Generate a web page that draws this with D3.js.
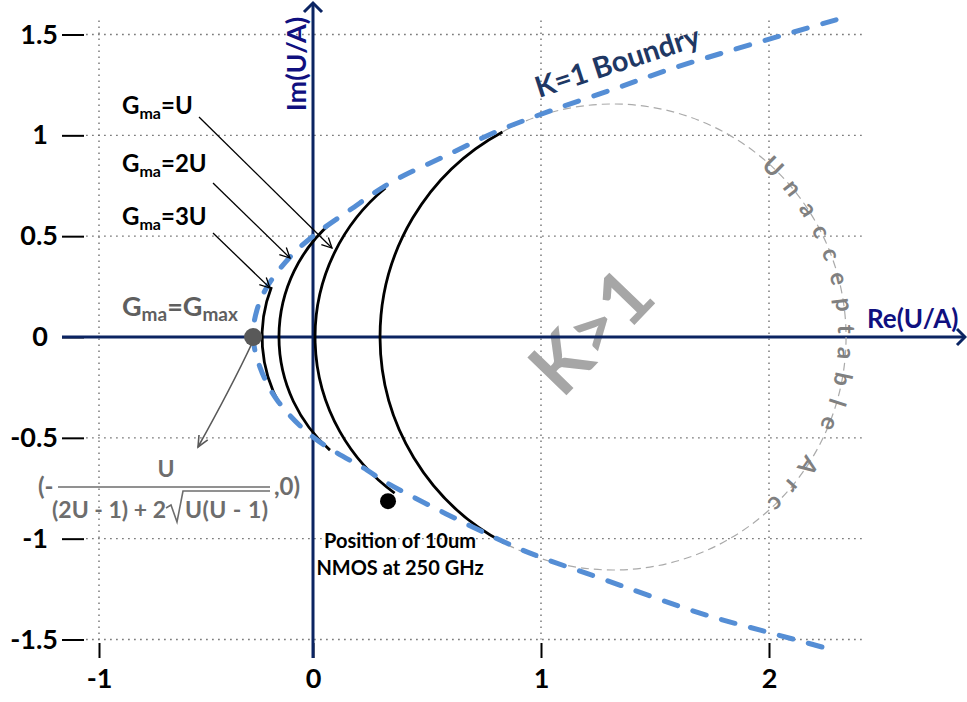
<!DOCTYPE html>
<html>
<head>
<meta charset="utf-8">
<script src="https://cdn.jsdelivr.net/npm/d3@7"></script>
<style>
  body { margin: 0; background: #fff; }
  svg text { font-family: Lato, "Open Sans", sans-serif; font-weight: bold; }
</style>
</head>
<body>
<script>
// axis ticks
const xTicks = [-1, 0, 1, 2];
const xTickLabels = ["-1", "0", "1", "2"];
const yTicks = [-1.5, -1, -0.5, 0, 0.5, 1, 1.5];
const yTickLabels = ["-1.5", "-1", "-0.5", "0", "0.5", "1", "1.5"];
const gridX = [-1, 1, 2];
const gridY = [-1.5, -1, -0.5, 0.5, 1, 1.5];

// K=1 boundary (top right -> vertex -> bottom right)
const kBoundX = [2.294, 1.596, 1.333, 1.053, 0.82, 0.588, 0.338, 0.162, 0, -0.107, -0.215, -0.262, -0.28,
                 -0.248, -0.168, 0, 0.237, 0.325, 0.82, 0.996, 1.246, 1.697, 2.009, 2.281];
const kBoundY = [1.573, 1.339, 1.235, 1.126, 1.026, 0.902, 0.764, 0.63, 0.5, 0.397, 0.248, 0.134, 0,
                 -0.149, -0.312, -0.496, -0.66, -0.724, -1.007, -1.091, -1.19, -1.369, -1.468, -1.552];

// constant Gma arcs (circles centred on the real axis)
const arcVertexX = [-0.238, -0.159, 0.009, 0.294];
const arcCenterX = [0.382, 0.513, 0.855, 1.316];
const arcTopY = [0.248, 0.566, 0.739, 1.017];
const arcBottomY = [-0.337, -0.561, -0.774, -1.022];

// marked points
const gmaxPoint = [-0.28, 0];
const nmosPoint = [0.329, -0.814];

const width = 967, height = 702;
const navy = "#0b2462";

const x = d3.scaleLinear().domain([-1, 0, 1, 2]).range([99, 313, 541, 769]);
const y = d3.scaleLinear().domain([-1.5, 1.5]).range([639.5, 34.5]);

const svg = d3.select("body").append("svg")
    .attr("width", width)
    .attr("height", height);

const defs = svg.append("defs");
defs.append("marker")
    .attr("id", "arrowBlack")
    .attr("viewBox", "-12 -7 14 14")
    .attr("markerWidth", 14).attr("markerHeight", 14)
    .attr("markerUnits", "userSpaceOnUse")
    .attr("orient", "auto")
    .append("path")
    .attr("d", "M-10,-5L0,0L-10,5")
    .attr("fill", "none").attr("stroke", "#000").attr("stroke-width", 1.3);
defs.append("marker")
    .attr("id", "arrowGray")
    .attr("viewBox", "-12 -7 14 14")
    .attr("markerWidth", 14).attr("markerHeight", 14)
    .attr("markerUnits", "userSpaceOnUse")
    .attr("orient", "auto")
    .append("path")
    .attr("d", "M-11,-5L0,0L-11,5")
    .attr("fill", "none").attr("stroke", "#595959").attr("stroke-width", 1.6);

// grid
svg.append("g").selectAll("line")
    .data(gridY).enter().append("line")
    .attr("x1", x(-1.06)).attr("x2", x(2.42))
    .attr("y1", d => y(d)).attr("y2", d => y(d))
    .attr("stroke", "#666").attr("stroke-width", 1.3).attr("stroke-dasharray", "1.5,4.5");
svg.append("g").selectAll("line")
    .data(gridX).enter().append("line")
    .attr("x1", d => x(d)).attr("x2", d => x(d))
    .attr("y1", y(1.57)).attr("y2", y(-1.5))
    .attr("stroke", "#666").attr("stroke-width", 1.3).attr("stroke-dasharray", "1.5,4.5");

// ticks
const yAxis = svg.append("g")
    .attr("transform", "translate(84,0)")
    .call(d3.axisLeft(y).tickValues(yTicks).tickSize(22).tickPadding(4)
        .tickFormat((d, i) => yTickLabels[i]));
yAxis.select(".domain").remove();
yAxis.selectAll("line").attr("stroke", "#000").attr("stroke-width", 2);
yAxis.selectAll("text")
    .attr("fill", "#000")
    .style("font-size", "27px")
    .attr("x", d => Number.isInteger(d) ? -36 : -26);

const xAxis = svg.append("g")
    .attr("transform", "translate(0,643)")
    .call(d3.axisBottom(x).tickValues(xTicks).tickSize(15).tickPadding(11)
        .tickFormat((d, i) => xTickLabels[i]));
xAxis.select(".domain").remove();
xAxis.selectAll("line").attr("stroke", "#000").attr("stroke-width", 2);
xAxis.selectAll("text").attr("fill", "#000").style("font-size", "27px");

// big K>1 label (under the axes)
svg.append("text")
    .attr("transform", "translate(591,331) rotate(-46)")
    .attr("text-anchor", "middle")
    .attr("dy", "0.36em")
    .attr("fill", "#a6a6a6")
    .style("font-size", "75px")
    .text("K>1");

// main axes
svg.append("line")
    .attr("x1", 62).attr("x2", 965).attr("y1", y(0)).attr("y2", y(0))
    .attr("stroke", navy).attr("stroke-width", 3);
svg.append("line")
    .attr("x1", x(0)).attr("x2", x(0)).attr("y1", 658).attr("y2", 3)
    .attr("stroke", navy).attr("stroke-width", 3);
svg.append("path")
    .attr("d", `M${x(0) - 9},12L${x(0)},3L${x(0) + 9},12`)
    .attr("fill", "none").attr("stroke", navy).attr("stroke-width", 3);
svg.append("path")
    .attr("d", `M957,${y(0) - 8}L965,${y(0)}L957,${y(0) + 8}`)
    .attr("fill", "none").attr("stroke", navy).attr("stroke-width", 3);

svg.append("text")
    .attr("transform", "translate(306,64) rotate(-90)")
    .attr("text-anchor", "middle")
    .attr("fill", "#10107f")
    .style("font-size", "27px")
    .text("Im(U/A)");
svg.append("text")
    .attr("x", 867).attr("y", 328)
    .attr("fill", "#10107f")
    .style("font-size", "26px")
    .text("Re(U/A)");

// arc geometry in pixels
const arcs = arcCenterX.map((c, i) => {
    const cx = x(c), cy = y(0);
    const r = cx - x(arcVertexX[i]);
    const angleAt = v => {
        const dy = y(v) - cy;
        return Math.atan2(dy, -Math.sqrt(Math.max(r * r - dy * dy, 0)));
    };
    return { cx, cy, r, a0: angleAt(arcTopY[i]), a1: angleAt(arcBottomY[i]) };
});

// unacceptable part of the outer circle
const outer = arcs[3];
const grayPath = d3.path();
grayPath.arc(outer.cx, outer.cy, outer.r, outer.a0, outer.a1, false);
svg.append("path")
    .attr("d", grayPath.toString())
    .attr("fill", "none").attr("stroke", "#aaa").attr("stroke-width", 1.2)
    .attr("stroke-dasharray", "8,5");

// text along the arc
const deg = Math.PI / 180;
const textArc = d3.path();
const ta0 = -70 * deg;
textArc.arc(outer.cx, outer.cy, outer.r, ta0, 80 * deg, false);
defs.append("path").attr("id", "uarc").attr("d", textArc.toString());

const arcLabel = "Unacceptable Arc";
const arcFont = 24;
const probe = svg.append("text").style("font-size", arcFont + "px").text(arcLabel);
const natural = probe.node().getComputedTextLength();
probe.remove();
const spanLen = outer.r * (96 * deg);
const spacing = (spanLen - natural) / (arcLabel.length - 1);
svg.append("text")
    .attr("fill", "#808080")
    .style("font-size", arcFont + "px")
    .style("letter-spacing", spacing + "px")
    .attr("dy", "0.33em")
    .append("textPath")
    .attr("href", "#uarc")
    .attr("startOffset", outer.r * ((-49 * deg) - ta0))
    .text(arcLabel);

// black constant-Gma arcs
arcs.forEach(a => {
    const p = d3.path();
    p.arc(a.cx, a.cy, a.r, a.a0, a.a1, true);
    svg.append("path")
        .attr("d", p.toString())
        .attr("fill", "none").attr("stroke", "#000").attr("stroke-width", 2.8);
});

// K=1 boundary
const kLine = d3.line()
    .x(d => x(d[0])).y(d => y(d[1]))
    .curve(d3.curveCatmullRom.alpha(0.5));
svg.append("path")
    .datum(d3.zip(kBoundX, kBoundY))
    .attr("d", kLine)
    .attr("fill", "none")
    .attr("stroke", "#558ed5").attr("stroke-width", 5)
    .attr("stroke-linecap", "round")
    .attr("stroke-dasharray", "14,16");

svg.append("text")
    .attr("transform", "translate(539,98) rotate(-18)")
    .attr("fill", "#1f3864")
    .style("font-size", "29px")
    .text("K=1 Boundry");

// Gma labels + arrows
function gmaLabel(xp, yp, sub, rest, size, subSize, color) {
    const t = svg.append("text")
        .attr("x", xp).attr("y", yp)
        .attr("fill", color)
        .style("font-size", size + "px");
    t.append("tspan").text("G");
    t.append("tspan").attr("dy", 0.2 * size).style("font-size", subSize + "px").text(sub);
    t.append("tspan").attr("dy", -0.2 * size).text(rest);
    return t;
}
gmaLabel(122, 114, "ma", "=U", 24, 16, "#000");
gmaLabel(122, 172, "ma", "=2U", 24, 16, "#000");
gmaLabel(122, 225, "ma", "=3U", 24, 16, "#000");

const gmax = gmaLabel(122, 316, "ma", "=G", 27, 19, "#5f5f5f");
gmax.append("tspan").attr("dy", 0.2 * 27).style("font-size", "19px").text("max");

const arrows = [
    [[199, 117], [332, 248]],
    [[213, 183], [290, 258]],
    [[213, 233], [270, 288]]
];
svg.append("g").selectAll("line")
    .data(arrows).enter().append("line")
    .attr("x1", d => d[0][0]).attr("y1", d => d[0][1])
    .attr("x2", d => d[1][0]).attr("y2", d => d[1][1])
    .attr("stroke", "#000").attr("stroke-width", 1.3)
    .attr("marker-end", "url(#arrowBlack)");

// Gmax point, arrow and formula
svg.append("path")
    .attr("d", `M${x(gmaxPoint[0])},${y(gmaxPoint[1]) + 4}Q231,388 198,447`)
    .attr("fill", "none").attr("stroke", "#595959").attr("stroke-width", 1.6)
    .attr("marker-end", "url(#arrowGray)");
svg.append("circle")
    .attr("cx", x(gmaxPoint[0])).attr("cy", y(gmaxPoint[1])).attr("r", 9)
    .attr("fill", "#595959");

const fcol = "#6d6d6d";
const formula = svg.append("g").attr("fill", fcol).style("font-size", "23px");
formula.append("text").attr("x", 38).attr("y", 495).style("font-size", "24px").text("(-");
formula.append("text").attr("x", 166).attr("y", 477).attr("text-anchor", "middle").text("U");
formula.append("line").attr("x1", 58).attr("x2", 270).attr("y1", 487).attr("y2", 487)
    .attr("stroke", fcol).attr("stroke-width", 1.6);
formula.append("text").attr("x", 166).attr("y", 518).attr("text-anchor", "end").text("(2U - 1) + 2");
formula.append("path").attr("d", "M166,508L171,505L177,522L183,491L270,491")
    .attr("fill", "none").attr("stroke", fcol).attr("stroke-width", 1.6);
formula.append("text").attr("x", 185).attr("y", 518)
    .attr("textLength", 83).attr("lengthAdjust", "spacing").text("U(U - 1)");
formula.append("text").attr("x", 274).attr("y", 495).style("font-size", "24px").text(",0)");

// NMOS point
svg.append("circle")
    .attr("cx", x(nmosPoint[0])).attr("cy", y(nmosPoint[1])).attr("r", 8)
    .attr("fill", "#000");
svg.append("text")
    .attr("x", 400).attr("y", 548).attr("text-anchor", "middle")
    .attr("fill", "#000").style("font-size", "20px")
    .text("Position of 10um");
svg.append("text")
    .attr("x", 400).attr("y", 575).attr("text-anchor", "middle")
    .attr("fill", "#000").style("font-size", "20px")
    .text("NMOS at 250 GHz");
</script>
</body>
</html>
